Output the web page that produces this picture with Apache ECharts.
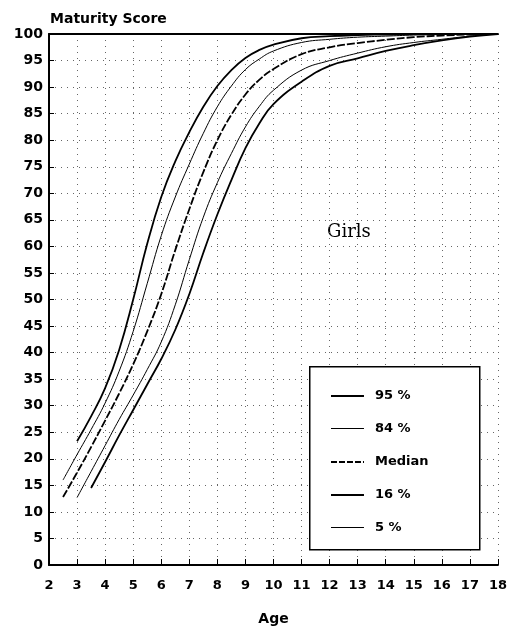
<!DOCTYPE html>
<html>
<head>
<meta charset="utf-8">
<script src="https://cdn.jsdelivr.net/npm/echarts@6/dist/echarts.min.js"></script>
<style>html,body{margin:0;padding:0;background:#fff;}#c{width:510px;height:631px;}</style>
</head>
<body>
<div id="c"></div>
<script>
// Ages (x) and maturity scores (y) for each percentile curve
var age95 = [3.0, 3.5, 4.0, 4.5, 5.0, 5.5, 6.0, 6.5, 7.0, 7.5, 8.0, 8.5, 9.0, 9.5, 10, 11, 12, 13, 14, 15, 16, 17, 18];
var score95 = [23.3, 28, 33.3, 40.5, 50, 60.5, 69.3, 76, 81.5, 86.3, 90.2, 93.2, 95.5, 97.0, 98.0, 99.2, 99.6, 99.8, 99.9, 100, 100, 100, 100];

var age84 = [2.5, 3.0, 3.5, 4.0, 4.5, 5.0, 5.5, 6.0, 6.5, 7.0, 7.5, 8.0, 8.5, 9.0, 9.5, 10, 11, 12, 13, 14, 15, 16, 17, 18];
var score84 = [16, 20.8, 25.5, 30.5, 36.5, 44, 53, 62, 69.3, 75.5, 81.3, 86.3, 90.2, 93.3, 95.3, 96.8, 98.4, 99.0, 99.4, 99.6, 99.8, 99.9, 100, 100];

var ageMed = [2.5, 3.0, 3.5, 4.0, 4.5, 5.0, 5.5, 6.0, 6.5, 7.0, 7.5, 8.0, 8.5, 9.0, 9.5, 10, 11, 12, 13, 14, 15, 16, 17, 18];
var scoreMed = [12.8, 17.4, 22.2, 27.2, 32.3, 37.8, 44, 51, 59.3, 67, 74, 80, 84.8, 88.6, 91.4, 93.4, 96.2, 97.5, 98.3, 98.9, 99.4, 99.7, 99.9, 100];

var age16 = [3.0, 3.5, 4.0, 4.5, 5.0, 5.5, 6.0, 6.5, 7.0, 7.5, 8.0, 8.5, 9.0, 9.5, 10, 11, 12, 13, 14, 15, 16, 17, 18];
var score16 = [12.7, 17.6, 22.5, 27.4, 32.0, 36.8, 42, 49, 57.5, 65.5, 72, 77.5, 82.5, 86.4, 89.4, 93.2, 95.0, 96.4, 97.6, 98.4, 99.0, 99.6, 100];

var age5 = [3.5, 4.0, 4.5, 5.0, 5.5, 6.0, 6.5, 7.0, 7.5, 8.0, 8.5, 9.0, 9.5, 10, 11, 12, 13, 14, 15, 16, 17, 18];
var score5 = [14.5, 19.4, 24.4, 29.2, 34, 38.8, 44.3, 51, 58.8, 66, 72.5, 78.5, 83.2, 86.8, 91.0, 94.0, 95.4, 96.8, 97.9, 98.8, 99.5, 100];

var seriesNames = ['95 %', '84 %', 'Median', '16 %', '5 %'];
var xTicks = [2, 18, 1];   // min, max, interval
var yTicks = [0, 100, 5];  // min, max, interval

function pairs(xs, ys) { return xs.map(function (x, i) { return [x, ys[i]]; }); }

// legend icon: a line of given thickness centred in a 33x14 box (tiny corner dots fix the box size)
function lineIcon(t, dashed) {
  var y0 = Math.floor(7 - t / 2), p = 'path://M0,0h0.01v0.01h-0.01z M33,14h0.01v0.01h-0.01z ';
  if (!dashed) return p + 'M0,' + y0 + 'h33v' + t + 'h-33z';
  for (var x = 0; x < 33; x += 8) {
    var w = Math.min(6, 33 - x);
    p += 'M' + x + ',' + y0 + 'h' + w + 'v' + t + 'h-' + w + 'z ';
  }
  return p;
}

var FONT = 'DejaVu Sans';
var chart = echarts.init(document.getElementById('c'), null, { renderer: 'canvas' });

function mkSeries(name, xs, ys, width, type) {
  return {
    name: name, type: 'line', data: pairs(xs, ys), smooth: 0.45,
    symbol: 'none', showSymbol: false, silent: true, color: '#000',
    itemStyle: { color: '#000' },
    lineStyle: { color: '#000', width: width, type: type || 'solid' }
  };
}

var option = {
  animation: false,
  backgroundColor: '#fff',
  color: ['#000'],
  grid: { left: 49, right: 12, top: 34, bottom: 66 },
  xAxis: [{
    type: 'value', min: xTicks[0], max: xTicks[1], interval: xTicks[2],
    name: 'Age', nameLocation: 'middle', nameGap: 47,
    nameTextStyle: { fontFamily: FONT, fontWeight: 'bold', fontSize: 14, color: '#000' },
    axisLine: { show: true, lineStyle: { color: '#000', width: 2 } },
    axisTick: { show: true, inside: true, length: 6, lineStyle: { color: '#000', width: 1 } },
    axisLabel: { fontFamily: FONT, fontWeight: 'bold', fontSize: 13, color: '#000', margin: 14 },
    splitLine: { show: true, lineStyle: { color: '#666', width: 1, type: [1, 5] } }
  }, {
    type: 'value', position: 'top', min: xTicks[0], max: xTicks[1], interval: xTicks[2],
    axisLine: { show: true, lineStyle: { color: '#000', width: 2 } },
    axisTick: { show: false }, axisLabel: { show: false }, splitLine: { show: false }
  }],
  yAxis: {
    type: 'value', min: yTicks[0], max: yTicks[1], interval: yTicks[2],
    axisLine: { show: true, lineStyle: { color: '#000', width: 2 } },
    axisTick: { show: true, inside: true, length: 5, lineStyle: { color: '#000', width: 1 } },
    axisLabel: { fontFamily: FONT, fontWeight: 'bold', fontSize: 14, color: '#000', margin: 6 },
    splitLine: { show: true, lineStyle: { color: '#666', width: 1, type: [1, 5] } }
  },
  legend: {
    orient: 'vertical', left: 326, top: 384, z: 20,
    itemWidth: 33, itemHeight: 14, itemGap: 19,
    itemStyle: { color: '#000', borderWidth: 0 },
    textStyle: { fontFamily: FONT, fontWeight: 'bold', fontSize: 13, color: '#000', padding: [0, 0, 0, 6] },
    data: [
      { name: seriesNames[0], icon: lineIcon(2) },
      { name: seriesNames[1], icon: lineIcon(1) },
      { name: seriesNames[2], icon: lineIcon(2, true) },
      { name: seriesNames[3], icon: lineIcon(2) },
      { name: seriesNames[4], icon: lineIcon(1) }
    ]
  },
  graphic: [
    { type: 'rect', left: 309, top: 366, z: 3, shape: { width: 170, height: 183 },
      style: { fill: '#fff', stroke: '#000', lineWidth: 1.5 } },
    { type: 'text', left: 50, top: 12,
      style: { text: 'Maturity Score', font: 'bold 14px "DejaVu Sans"', fill: '#000' } },
    { type: 'text', left: 327, top: 223,
      style: { text: 'Girls', font: '18px "DejaVu Serif"', fill: '#000' } }
  ],
  series: [
    mkSeries(seriesNames[0], age95, score95, 1.8),
    mkSeries(seriesNames[1], age84, score84, 1),
    mkSeries(seriesNames[2], ageMed, scoreMed, 1.8, [8, 2]),
    mkSeries(seriesNames[3], age16, score16, 1),
    mkSeries(seriesNames[4], age5, score5, 1.8)
  ]
};
chart.setOption(option);
</script>
</body>
</html>
